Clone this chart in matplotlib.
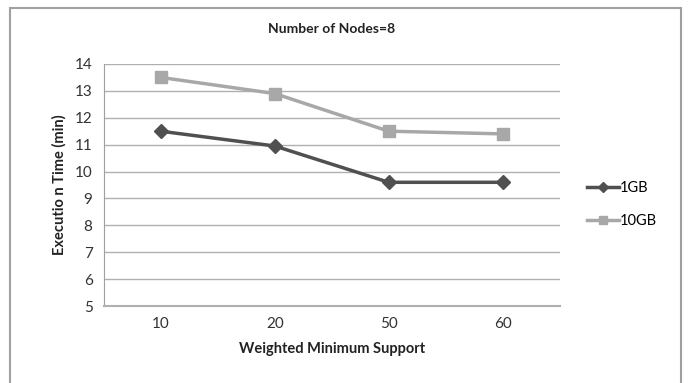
import numpy as np
import matplotlib.pyplot as plt
from matplotlib.patches import Rectangle

# Dados do gráfico
suportes = ["10", "20", "50", "60"]
tempo_1gb = [11.5, 10.95, 9.6, 9.6]
tempo_10gb = [13.5, 12.9, 11.5, 11.4]
yticks = list(range(5, 15))

plt.rcParams["font.family"] = ["Lato", "DejaVu Sans"]

fig = plt.figure(figsize=(6.91, 3.83), dpi=100)
ax = fig.add_axes([0.150, 0.201, 0.660, 0.632])

# Moldura externa do gráfico
fig.patches.append(Rectangle((0.014, -0.1), 0.972, 1.08, transform=fig.transFigure,
                             fill=False, edgecolor="#a0a0a0", linewidth=1.5))

x = np.arange(len(suportes))
ax.plot(x, tempo_1gb, color="#505050", linewidth=2.5, marker="D", markersize=7, label="1GB")
ax.plot(x, tempo_10gb, color="#a8a8a8", linewidth=2.5, marker="s", markersize=9, label="10GB")

ax.set_xlim(-0.5, 3.5)
ax.set_ylim(5, 14)
ax.set_xticks(x)
ax.set_xticklabels(suportes)
ax.set_yticks(yticks)
ax.tick_params(length=0, labelsize=11, colors="#333333", pad=8)
ax.grid(True, axis="y", color="#b0b0b0", linewidth=1)
ax.set_axisbelow(True)

for lado in ["top", "right"]:
    ax.spines[lado].set_visible(False)
ax.spines["left"].set_color("#a0a0a0")
ax.spines["bottom"].set_color("#b0b0b0")
ax.spines["bottom"].set_linewidth(1.5)

ax.set_title("Number of Nodes=8", fontsize=10, fontweight="bold", color="#222222", pad=22)
ax.set_xlabel("Weighted Minimum Support", fontsize=10.5, fontweight="bold", color="#222222", labelpad=8)
ax.set_ylabel("Executio n Time (min)", fontsize=10.5, fontweight="bold", color="#222222", labelpad=6)

ax.legend(loc="center left", bbox_to_anchor=(1.03, 0.42), frameon=False, fontsize=10.5,
          handlelength=2.2, handletextpad=0.1, labelspacing=1.3, markerscale=0.7)

fig.savefig("out.png", dpi=100)
